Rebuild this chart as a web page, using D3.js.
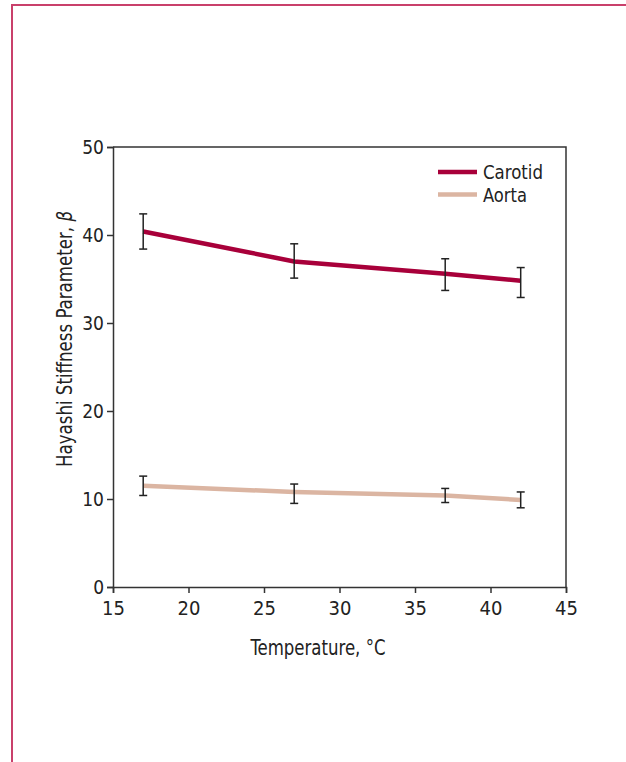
<!DOCTYPE html>
<html>
<head>
<meta charset="utf-8">
<script src="https://cdn.jsdelivr.net/npm/d3@7"></script>
<style>
  body { margin: 0; background: #fff; }
  svg text { font-family: "Liberation Sans Narrow", "DejaVu Sans Condensed", "Roboto", sans-serif; fill: #222; }
</style>
</head>
<body>
<svg id="chart" width="626" height="762"></svg>
<script>
// temperatures (°C) where measurements were taken
var temps = [17, 27, 37, 42];
// Hayashi stiffness, mean and error-bar ends
var carotid = [40.4, 37.0, 35.6, 34.8];
var carotidLo = [38.4, 35.1, 33.7, 32.9];
var carotidHi = [42.4, 39.0, 37.3, 36.3];
var aorta = [11.5, 10.8, 10.4, 9.9];
var aortaLo = [10.4, 9.5, 9.6, 9.0];
var aortaHi = [12.6, 11.7, 11.2, 10.8];
var xTicks = [15, 20, 25, 30, 35, 40, 45];
var yTicks = [0, 10, 20, 30, 40, 50];
var seriesNames = ['Carotid', 'Aorta'];
var seriesColors = ['#a8003a', '#dbb5a2'];

var svg = d3.select('#chart');

// pink frame round the figure
svg.append('path')
    .attr('d', 'M12,762 L12,5 L626,5')
    .attr('fill', 'none')
    .attr('stroke', '#c9406b')
    .attr('stroke-width', 2);

var margin = { left: 113, right: 566, top: 147, bottom: 587 };

var xScale = d3.scaleLinear().domain([15, 45]).range([margin.left, margin.right]);
var yScale = d3.scaleLinear().domain([0, 50]).range([margin.bottom, margin.top]);

// box top + right
svg.append('path')
    .attr('d', 'M' + margin.left + ',' + margin.top + ' L' + margin.right + ',' + margin.top + ' L' + margin.right + ',' + margin.bottom)
    .attr('fill', 'none')
    .attr('stroke', '#333')
    .attr('stroke-width', 1.5);

var xAxis = svg.append('g')
    .attr('transform', 'translate(0,' + margin.bottom + ')')
    .call(d3.axisBottom(xScale).tickValues(xTicks).tickSizeOuter(0).tickSize(6).tickPadding(8));
var yAxis = svg.append('g')
    .attr('transform', 'translate(' + margin.left + ',0)')
    .call(d3.axisLeft(yScale).tickValues(yTicks).tickSizeOuter(0).tickSize(6).tickPadding(3));

[xAxis, yAxis].forEach(function (ax) {
    ax.selectAll('path, line').attr('stroke', '#333').attr('stroke-width', 1.5);
    ax.selectAll('text').attr('fill', '#222');
});
xAxis.selectAll('text').style('font-size', '20px');
yAxis.selectAll('text').style('font-size', '19px');

var series = [
    { mean: carotid, lo: carotidLo, hi: carotidHi },
    { mean: aorta, lo: aortaLo, hi: aortaHi }
];

var line = d3.line()
    .x(function (d) { return xScale(d.x); })
    .y(function (d) { return yScale(d.y); });

series.forEach(function (s, k) {
    var pts = temps.map(function (t, i) { return { x: t, y: s.mean[i] }; });
    svg.append('path')
        .datum(pts)
        .attr('d', line)
        .attr('fill', 'none')
        .attr('stroke', seriesColors[k])
        .attr('stroke-width', 4.5);

    var eb = svg.append('g').selectAll('g')
        .data(temps.map(function (t, i) { return { x: t, lo: s.lo[i], hi: s.hi[i] }; }))
        .enter().append('g');
    eb.append('line')
        .attr('x1', function (d) { return xScale(d.x); })
        .attr('x2', function (d) { return xScale(d.x); })
        .attr('y1', function (d) { return yScale(d.lo); })
        .attr('y2', function (d) { return yScale(d.hi); });
    eb.append('line')
        .attr('x1', function (d) { return xScale(d.x) - 4; })
        .attr('x2', function (d) { return xScale(d.x) + 4; })
        .attr('y1', function (d) { return yScale(d.hi); })
        .attr('y2', function (d) { return yScale(d.hi); });
    eb.append('line')
        .attr('x1', function (d) { return xScale(d.x) - 4; })
        .attr('x2', function (d) { return xScale(d.x) + 4; })
        .attr('y1', function (d) { return yScale(d.lo); })
        .attr('y2', function (d) { return yScale(d.lo); });
    eb.selectAll('line').attr('stroke', '#222').attr('stroke-width', 1.5);
});

// legend
var legend = svg.append('g').attr('transform', 'translate(438,172)');
seriesNames.forEach(function (name, k) {
    var row = legend.append('g').attr('transform', 'translate(0,' + (k * 22.5) + ')');
    row.append('line')
        .attr('x1', 0).attr('x2', 39)
        .attr('stroke', seriesColors[k])
        .attr('stroke-width', 4.5);
    row.append('text')
        .attr('x', 45).attr('y', 7)
        .style('font-size', '20px')
        .attr('textLength', k === 0 ? 60 : 44)
        .attr('lengthAdjust', 'spacingAndGlyphs')
        .text(name);
});

// axis titles
svg.append('text')
    .attr('x', 318)
    .attr('y', 655)
    .attr('text-anchor', 'middle')
    .style('font-size', '21px')
    .attr('textLength', 135)
    .attr('lengthAdjust', 'spacingAndGlyphs')
    .text('Temperature, °C');

var yTitle = svg.append('text')
    .attr('transform', 'translate(72,339) rotate(-90)')
    .attr('text-anchor', 'middle')
    .style('font-size', '21px')
    .attr('textLength', 256)
    .attr('lengthAdjust', 'spacingAndGlyphs');
yTitle.append('tspan').text('Hayashi Stiffness Parameter, ');
yTitle.append('tspan').style('font-style', 'italic').text('β');
</script>
</body>
</html>
